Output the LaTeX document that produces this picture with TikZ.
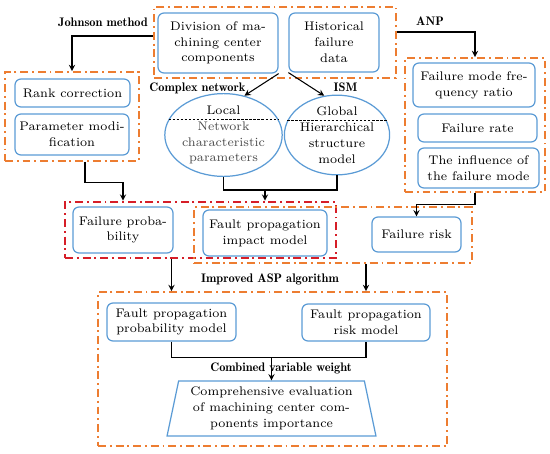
\documentclass[tikz,border=0pt]{standalone}
\usetikzlibrary{shapes.geometric,arrows}

\definecolor{azul}{RGB}{91,155,213}
\definecolor{naranja}{RGB}{237,125,49}
\definecolor{rojo}{RGB}{214,30,40}

\begin{document}
\begin{tikzpicture}[
    x=0.02cm,
    y=-0.02cm,
    >=stealth,
    font=\fontsize{7.1}{9}\selectfont,
    caja/.style={
        draw=azul,
        rounded corners=3.4pt,
        line width=0.7pt,
        align=center,
        inner sep=1pt
    },
    nube/.style={
        draw=azul,
        ellipse,
        line width=0.7pt,
        align=center,
        inner sep=0pt
    },
    grupo/.style={
        draw=naranja,
        line width=1.1pt,
        dash pattern=on 4.5pt off 2.2pt on 1.1pt off 2.2pt,
        inner sep=0pt
    },
    gruporojo/.style={
        draw=rojo,
        line width=1.5pt,
        dash pattern=on 4.5pt off 2.2pt on 1.1pt off 2.2pt,
        inner sep=0pt
    },
    etiqueta/.style={
        font=\fontsize{7.05}{8}\fontseries{b}\selectfont
    },
    flecha/.style={
        ->,
        line width=0.6pt
    }
]
    \useasboundingbox (0,0) rectangle (550,453);

    % grupos
    \node[grupo, minimum width=4.84cm, minimum height=1.42cm] (grupoTop) at (275,42.5) {};
    \node[grupo, minimum width=2.68cm, minimum height=1.78cm] (grupoJohnson) at (72,116.5) {};
    \node[grupo, minimum width=2.80cm, minimum height=2.68cm] (grupoANP) at (475,125) {};
    \node[gruporojo, minimum width=5.42cm, minimum height=1.12cm] (grupoRojo) at (200.5,230) {};
    \node[grupo, minimum width=5.56cm, minimum height=1.12cm] (grupoMedio) at (333,235) {};
    \node[grupo, minimum width=6.98cm, minimum height=3.08cm] (grupoFinal) at (272.5,369) {};

    % fila superior
    \node[caja, minimum width=2.40cm, minimum height=1.20cm] (division) at (218,43)
        {Division of ma-\\chining center\\components};
    \node[caja, minimum width=1.80cm, minimum height=1.18cm] (historico) at (334,42.5)
        {Historical\\failure\\data};

    % Johnson
    \node[caja, minimum width=2.30cm, minimum height=0.56cm] (rango) at (72.5,93)
        {Rank correction};
    \node[caja, minimum width=2.28cm, minimum height=0.82cm] (parametro) at (72,134.5)
        {Parameter modi-\\fication};

    % ANP
    \node[caja, minimum width=2.44cm, minimum height=0.88cm] (frecuencia) at (474,85)
        {Failure mode fre-\\quency ratio};
    \node[caja, minimum width=2.38cm, minimum height=0.56cm] (tasa) at (477.5,128)
        {Failure rate};
    \node[caja, minimum width=2.42cm, minimum height=0.80cm] (influencia) at (478.5,168)
        {The influence of\\the failure mode};

    % redes
    \node[nube, minimum width=2.06cm, minimum height=1.52cm] (local) at (223.5,135)
        {Local\\\textcolor{black!70}{Network}\\\textcolor{black!70}{characteristic}\\\textcolor{black!70}{parameters}};
    \node[nube, minimum width=2.04cm, minimum height=1.52cm] (global) at (337,135)
        {Global\\Hierarchical\\structure\\model};
    \draw[dash pattern=on 1.4pt off 0.9pt, line width=0.6pt] (local.164) -- (local.16);
    \draw[dash pattern=on 1.4pt off 0.9pt, line width=0.6pt] (global.164) -- (global.16);

    % fila media
    \node[caja, minimum width=2.00cm, minimum height=0.92cm] (probFallo) at (123,230)
        {Failure proba-\\bility};
    \node[caja, minimum width=2.48cm, minimum height=0.92cm] (impacto) at (265,233)
        {Fault propagation\\impact model};
    \node[caja, minimum width=1.78cm, minimum height=0.70cm] (riesgo) at (416.5,234.5)
        {Failure risk};

    % fila inferior
    \node[caja, minimum width=2.58cm, minimum height=0.76cm] (modeloProb) at (171.5,322)
        {Fault propagation\\probability model};
    \node[caja, minimum width=2.56cm, minimum height=0.74cm] (modeloRiesgo) at (366,322.5)
        {Fault propagation\\risk model};
    \node[draw=azul, line width=0.7pt, trapezium, trapezium angle=76.7, trapezium stretches=true,
        minimum width=4.18cm, minimum height=1.10cm, align=center, inner sep=0pt]
        (evaluacion) at (271.5,408.5)
        {Comprehensive evaluation\\of machining center com-\\ponents importance};

    % etiquetas
    \node[etiqueta] (johnson) at (103,22) {Johnson method};
    \node[etiqueta] (complejo) at (197.5,88) {Complex network};
    \node[etiqueta] (ism) at (345.5,87) {ISM};
    \node[etiqueta] (anp) at (430,21) {ANP};
    \node[etiqueta] (asp) at (270,279) {Improved ASP algorithm};
    \node[etiqueta] (combinado) at (281,368) {Combined variable weight};

    % conexiones
    \draw[flecha] ([yshift=0.13cm]grupoTop.west) -| (grupoJohnson.north);
    \draw[flecha] ([yshift=0.21cm]grupoTop.east) -| (grupoANP.north);
    \draw[flecha] (division.south east) -- (local.62);
    \draw[flecha] (historico.south west) -- (global.108);
    \draw[flecha] ([xshift=0.26cm]grupoJohnson.south) -- ++(0,21)
        -| (probFallo.north |- grupoRojo.north);
    \draw[line width=0.6pt] (local.south) -- ++(0,13) coordinate (unionRed)
        -| (global.south);
    \draw[flecha] (unionRed -| impacto.north) -- (impacto.north |- grupoRojo.north);
    \draw[flecha] (grupoANP.south) -- ++(0,12) -| (riesgo.north);
    \draw[flecha] (grupoRojo.south -| modeloProb.north) -- (grupoFinal.north -| modeloProb.north);
    \draw[flecha] (grupoMedio.south -| modeloRiesgo.north) -- (grupoFinal.north -| modeloRiesgo.north);
    \draw[line width=0.6pt] (modeloProb.south) -- ++(0,16) coordinate (unionModelo)
        -| (modeloRiesgo.south);
    \draw[flecha] (unionModelo -| evaluacion.north) -- (evaluacion.north);
\end{tikzpicture}
\end{document}
